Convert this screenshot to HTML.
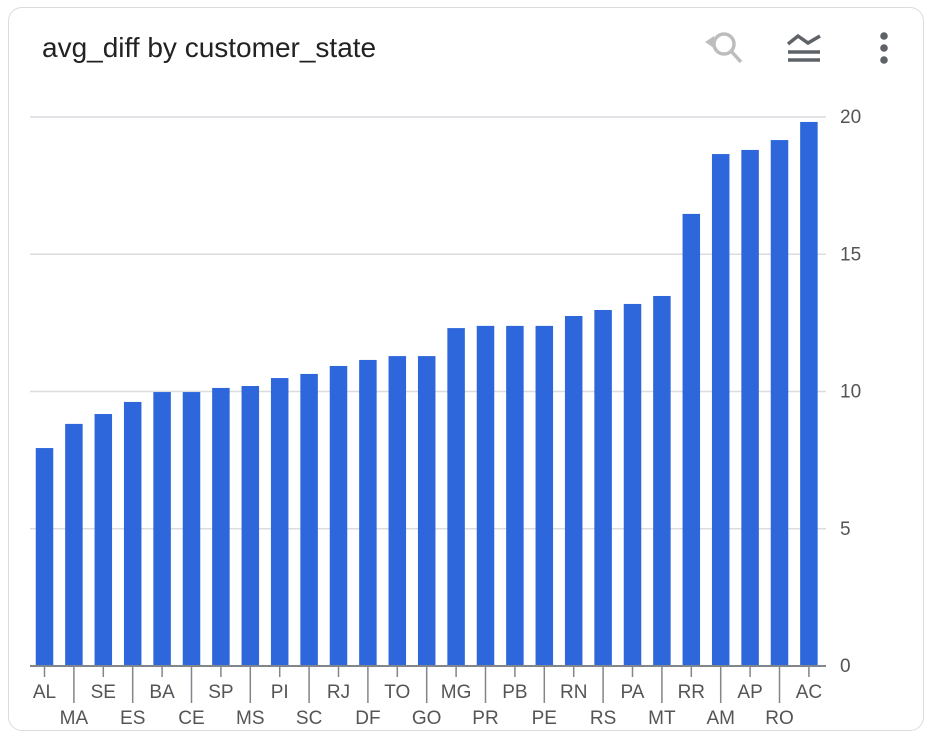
<!DOCTYPE html>
<html><head><meta charset="utf-8"><style>
html,body{margin:0;padding:0;background:#fff;width:936px;height:740px;overflow:hidden}
#card{position:absolute;left:8px;top:7px;width:916px;height:724px;border:1.5px solid #dcdcdc;border-radius:14px;box-sizing:border-box}
#title{position:absolute;left:42px;top:32px;font:28px "Liberation Sans",sans-serif;color:#222}
svg{position:absolute;left:0;top:0}
text{font-family:"Liberation Sans",sans-serif}
</style></head><body>
<div id="card"></div>
<div id="title">avg_diff by customer_state</div>
<svg width="936" height="740" id="chart">
 <g fill="none" stroke="#bdbdbd" stroke-width="3.5">
  <circle cx="724" cy="44" r="10"/><line x1="731" y1="51" x2="741" y2="62"/>
  <polygon points="705,42 714,36 714,48" fill="#bdbdbd" stroke="none"/>
 </g>
 <g stroke="#5f6368" stroke-width="3.5" fill="none">
  <polyline points="788,44 798,36 808,43 820,36"/><line x1="788" y1="52" x2="820" y2="52"/><line x1="788" y1="60" x2="820" y2="60"/>
 </g>
 <g fill="#5f6368">
  <circle cx="884" cy="36" r="3.8"/><circle cx="884" cy="48" r="3.8"/><circle cx="884" cy="60" r="3.8"/>
 </g>
 <g id="grid"></g><g id="bars"></g><g id="axis"></g>
</svg>
<script>
const categories=["AL","MA","SE","ES","BA","CE","SP","MS","PI","SC","RJ","DF","TO","GO","MG","PR","PB","PE","RN","RS","PA","MT","RR","AM","AP","RO","AC"];
const values=[7.94,8.82,9.18,9.62,9.98,9.98,10.13,10.2,10.49,10.64,10.93,11.15,11.29,11.29,12.31,12.39,12.39,12.39,12.75,12.97,13.19,13.48,16.47,18.65,18.8,19.16,19.82];
const yTicks=[0,5,10,15,20];
const NS="http://www.w3.org/2000/svg";
const x0=44.5,step=29.4,bw=17.5,yBase=666,yTop=117,yMax=20;
const xs=i=>x0+i*step;
const ys=v=>yBase-(v/yMax)*(yBase-yTop);
function mk(t,a,p){const e=document.createElementNS(NS,t);for(const k in a)e.setAttribute(k,a[k]);p.appendChild(e);return e;}
const grid=document.getElementById('grid'),bars=document.getElementById('bars'),axis=document.getElementById('axis');
yTicks.forEach(v=>{
 if(v>0){const l=mk('line',{x1:30,x2:826,y1:ys(v),y2:ys(v),stroke:'#dadce0','stroke-width':1.5},grid);
 
 }
 const t=mk('text',{x:840,y:ys(v)+6,'font-size':19,fill:'#555'},axis);t.textContent=v;
 
 
});
categories.forEach((c,i)=>{
 const r=mk('rect',{x:xs(i)-bw/2,y:ys(values[i]),width:bw,height:yBase-ys(values[i]),fill:'#2d67db'},bars);
 
 
 const odd=i%2==1;
 const tk=mk('line',{x1:xs(i),x2:xs(i),y1:yBase,y2:odd?703:677,stroke:'#80868b','stroke-width':1.5},axis);
 
 
 const t=mk('text',{x:xs(i),y:odd?724:698,'font-size':19,fill:'#555','text-anchor':'middle'},axis);t.textContent=c;
 
 
});
const ax=mk('line',{x1:30,x2:826,y1:yBase,y2:yBase,stroke:'#80868b','stroke-width':2},axis);


</script>
</body></html>
